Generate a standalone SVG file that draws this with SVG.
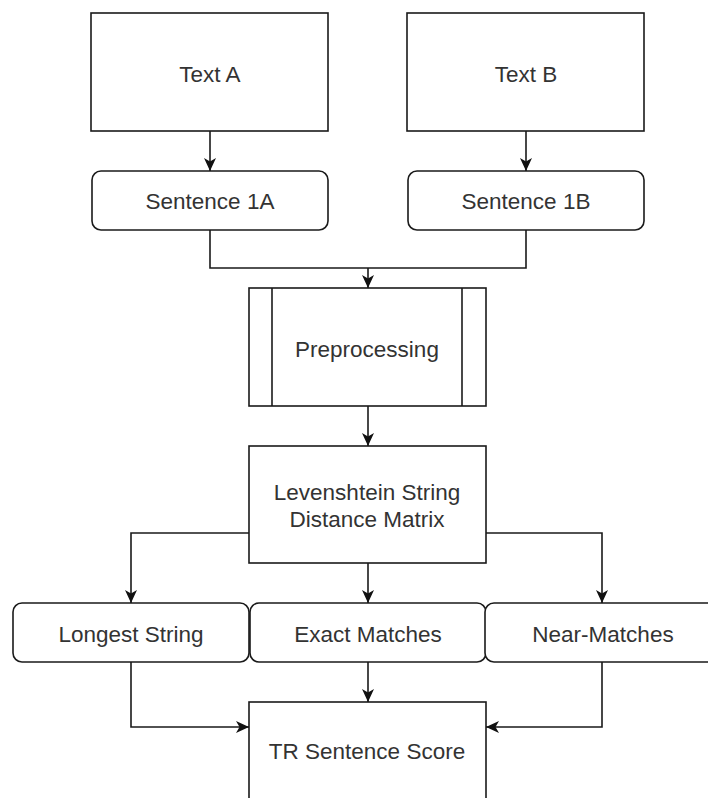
<svg xmlns="http://www.w3.org/2000/svg" width="708" height="798" viewBox="0 0 708 798">
<style>
.box{fill:#fff;stroke:#1a1a1a;stroke-width:1.6}
.lbl{font-family:"Liberation Sans",Arial,sans-serif;font-size:22.5px;fill:#333;text-anchor:middle}
.edge{fill:none;stroke:#1a1a1a;stroke-width:1.6}
</style>
<defs>
<marker id="arr" markerUnits="userSpaceOnUse" markerWidth="14" markerHeight="14" refX="13" refY="6" orient="auto" viewBox="0 0 14 12">
<path d="M0,0 L13,6 L0,12 L3.5,6 z" fill="#111"/>
</marker>
</defs>
<rect width="708" height="798" fill="#fff"/>
<g id="textA"><rect class="box" x="91" y="13" width="237" height="118"/><text class="lbl" x="210" y="82">Text A</text></g>
<g id="textB"><rect class="box" x="407" y="13" width="237" height="118"/><text class="lbl" x="526" y="82">Text B</text></g>
<g id="sentence1A"><rect class="box" x="92" y="171" width="236" height="59" rx="9"/><text class="lbl" x="210" y="209">Sentence 1A</text></g>
<g id="sentence1B"><rect class="box" x="408" y="171" width="236" height="59" rx="9"/><text class="lbl" x="526" y="209">Sentence 1B</text></g>
<g id="preprocessing"><rect class="box" x="249" y="288" width="237" height="118"/><line class="box" x1="272" y1="288" x2="272" y2="406"/><line class="box" x1="462" y1="288" x2="462" y2="406"/><text class="lbl" x="367" y="357">Preprocessing</text></g>
<g id="levenshtein"><rect class="box" x="249" y="446" width="237" height="117"/><text class="lbl" x="367" y="500">Levenshtein String</text><text class="lbl" x="367" y="527">Distance Matrix</text></g>
<g id="longest"><rect class="box" x="13" y="603" width="236" height="59" rx="9"/><text class="lbl" x="131" y="642">Longest String</text></g>
<g id="exact"><rect class="box" x="250" y="603" width="236" height="59" rx="9"/><text class="lbl" x="368" y="642">Exact Matches</text></g>
<g id="near"><rect class="box" x="485" y="603" width="236" height="59" rx="9"/><text class="lbl" x="603" y="642">Near-Matches</text></g>
<g id="trscore"><rect class="box" x="249" y="702" width="237" height="130"/><text class="lbl" x="367" y="759">TR Sentence Score</text></g>
<g id="connectors">
<path class="edge" d="M210,131 V171" marker-end="url(#arr)"/>
<path class="edge" d="M526,131 V171" marker-end="url(#arr)"/>
<path class="edge" d="M210,230 V268 H526 V230"/>
<path class="edge" d="M368,268 V288" marker-end="url(#arr)"/>
<path class="edge" d="M368,406 V446" marker-end="url(#arr)"/>
<path class="edge" d="M249,533 H131 V603" marker-end="url(#arr)"/>
<path class="edge" d="M486,533 H602 V603" marker-end="url(#arr)"/>
<path class="edge" d="M368,563 V603" marker-end="url(#arr)"/>
<path class="edge" d="M368,662 V702" marker-end="url(#arr)"/>
<path class="edge" d="M131,662 V727 H249" marker-end="url(#arr)"/>
<path class="edge" d="M602,662 V727 H486" marker-end="url(#arr)"/>
</g>
</svg>
